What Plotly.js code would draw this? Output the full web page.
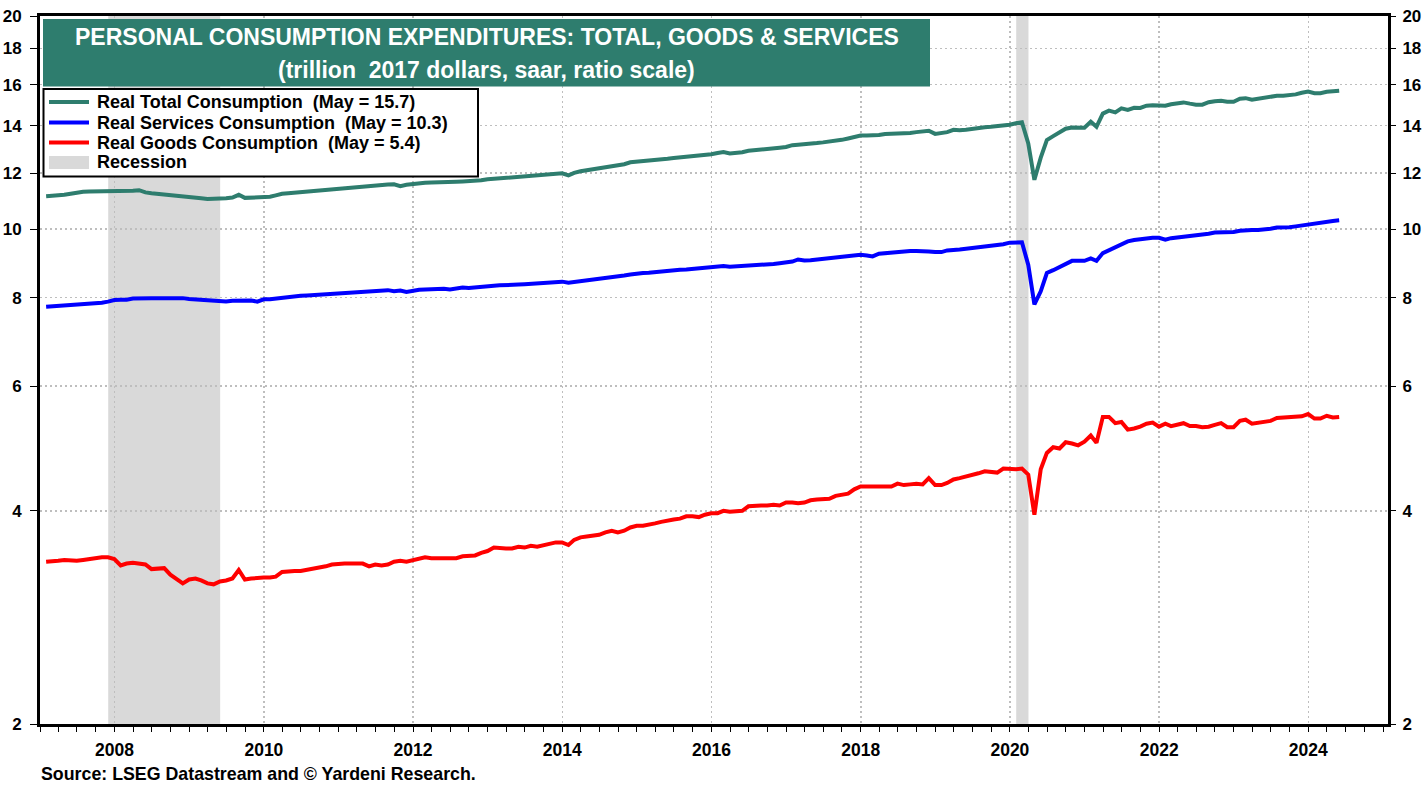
<!DOCTYPE html>
<html>
<head>
<meta charset="utf-8">
<script src="https://cdn.plot.ly/plotly-3.0.1.min.js"></script>
<style>html,body{margin:0;padding:0;background:#fff;}#chart{width:1427px;height:785px;}</style>
</head>
<body>
<div id="chart"></div>
<script>
// ---- DATA (monthly, Jan 2007 - May 2024, trillion 2017 dollars, saar) ----
const firstMonth = '2007-01';
const totalConsumption = [
  11.13,11.14,11.15,11.18,11.22,11.26,11.29,11.30,11.30,11.31,11.30,11.30, // 2007
  11.30,11.32,11.33,11.35,11.27,11.24,11.22,11.18,11.18,11.15,11.13,11.11, // 2008
  11.09,11.06,11.03,11.03,11.03,11.06,11.08,11.18,11.07,11.08,11.08,11.09, // 2009
  11.11,11.16,11.22,11.24,11.26,11.29,11.31,11.33,11.37,11.38,11.40,11.42, // 2010
  11.44,11.46,11.48,11.51,11.53,11.54,11.55,11.56,11.57,11.50,11.55,11.59, // 2011
  11.61,11.63,11.64,11.64,11.65,11.66,11.67,11.68,11.69,11.70,11.72,11.76, // 2012
  11.78,11.80,11.82,11.84,11.86,11.89,11.91,11.93,11.95,11.97,11.98,11.99, // 2013
  11.91,12.01,12.07,12.11,12.14,12.18,12.23,12.29,12.31,12.35,12.43,12.45, // 2014
  12.46,12.48,12.52,12.54,12.57,12.60,12.62,12.64,12.66,12.69,12.72,12.76, // 2015
  12.81,12.85,12.79,12.81,12.84,12.90,12.92,12.93,12.96,13.00,13.03,13.06, // 2016
  13.14,13.16,13.17,13.19,13.23,13.26,13.29,13.31,13.37,13.43,13.48,13.56, // 2017
  13.56,13.56,13.58,13.63,13.63,13.63,13.66,13.67,13.71,13.76,13.77,13.63, // 2018
  13.66,13.71,13.81,13.79,13.82,13.87,13.90,13.93,13.95,13.97,14.00,14.04, // 2019
  14.11,14.16,13.21,11.74,12.62,13.36,13.53,13.68,13.86,13.92,13.93,13.91, // 2020
  14.18,13.95,14.56,14.70,14.62,14.81,14.74,14.84,14.83,14.94,14.96,14.94, // 2021
  14.94,15.01,15.06,15.10,15.04,14.99,14.99,15.11,15.16,15.18,15.13,15.13, // 2022
  15.28,15.31,15.23,15.28,15.30,15.34,15.43,15.43,15.45,15.50,15.58,15.64, // 2023
  15.56,15.56,15.63,15.64,15.68                                            // 2024
];
const servicesConsumption = [
  7.77,7.78,7.79,7.79,7.80,7.81,7.84,7.85,7.86,7.87,7.90,7.94, // 2007
  7.95,7.95,7.98,7.99,7.99,7.99,7.99,7.99,8.01,8.00,7.99,7.97, // 2008
  7.96,7.94,7.94,7.93,7.90,7.90,7.92,7.93,7.94,7.93,7.90,7.96, // 2009
  7.96,7.98,8.00,8.02,8.04,8.05,8.06,8.07,8.08,8.08,8.09,8.11, // 2010
  8.11,8.12,8.14,8.15,8.16,8.17,8.19,8.20,8.17,8.19,8.15,8.19, // 2011
  8.21,8.22,8.23,8.24,8.24,8.22,8.25,8.27,8.26,8.28,8.30,8.30, // 2012
  8.32,8.33,8.33,8.34,8.35,8.36,8.37,8.38,8.39,8.40,8.42,8.43, // 2013
  8.40,8.42,8.43,8.45,8.47,8.49,8.52,8.54,8.57,8.60,8.63,8.66, // 2014
  8.67,8.68,8.70,8.71,8.73,8.74,8.76,8.77,8.79,8.80,8.82,8.84, // 2015
  8.85,8.87,8.85,8.86,8.86,8.87,8.88,8.89,8.91,8.93,8.95,8.97, // 2016
  9.00,9.06,9.03,9.04,9.06,9.08,9.09,9.10,9.12,9.14,9.17,9.20, // 2017
  9.18,9.15,9.23,9.25,9.26,9.29,9.30,9.31,9.31,9.32,9.30,9.28, // 2018
  9.28,9.33,9.36,9.36,9.38,9.40,9.42,9.44,9.46,9.49,9.52,9.57, // 2019
  9.59,9.58,8.90,7.83,8.17,8.67,8.75,8.84,8.95,9.02,9.02,9.02, // 2020
  9.09,9.02,9.25,9.34,9.43,9.53,9.61,9.65,9.68,9.71,9.72,9.72, // 2021
  9.66,9.71,9.73,9.75,9.77,9.78,9.80,9.85,9.89,9.89,9.90,9.91, // 2022
  9.95,9.97,9.97,9.97,9.98,10.01,10.05,10.05,10.06,10.09,10.12,10.16, // 2023
  10.21,10.24,10.25,10.27,10.29                                  // 2024
];
const goodsConsumption = [
  3.39,3.39,3.40,3.41,3.40,3.40,3.41,3.42,3.44,3.44,3.44,3.42, // 2007
  3.35,3.37,3.38,3.37,3.36,3.31,3.31,3.32,3.25,3.21,3.16,3.20, // 2008
  3.21,3.19,3.16,3.15,3.18,3.19,3.21,3.30,3.20,3.21,3.22,3.22, // 2009
  3.22,3.23,3.28,3.29,3.29,3.29,3.30,3.31,3.33,3.34,3.36,3.37, // 2010
  3.37,3.37,3.37,3.37,3.34,3.36,3.35,3.36,3.39,3.40,3.39,3.41, // 2011
  3.43,3.44,3.43,3.43,3.43,3.43,3.43,3.45,3.45,3.46,3.49,3.51, // 2012
  3.55,3.54,3.54,3.54,3.56,3.55,3.57,3.56,3.58,3.59,3.61,3.61, // 2013
  3.58,3.64,3.67,3.68,3.69,3.70,3.73,3.75,3.73,3.75,3.79,3.81, // 2014
  3.81,3.83,3.84,3.86,3.88,3.89,3.90,3.93,3.93,3.92,3.95,3.97, // 2015
  3.97,4.00,3.99,4.00,4.00,4.06,4.07,4.07,4.07,4.08,4.07,4.11, // 2016
  4.11,4.10,4.11,4.14,4.15,4.16,4.16,4.20,4.21,4.23,4.29,4.33, // 2017
  4.33,4.33,4.34,4.34,4.33,4.37,4.35,4.36,4.37,4.36,4.45,4.35, // 2018
  4.35,4.38,4.43,4.45,4.47,4.50,4.52,4.55,4.54,4.53,4.59,4.58, // 2019
  4.58,4.59,4.50,3.95,4.58,4.83,4.92,4.90,5.00,4.98,4.95,5.01, // 2020
  5.11,4.99,5.43,5.43,5.32,5.34,5.21,5.23,5.26,5.31,5.33,5.26, // 2021
  5.31,5.27,5.29,5.32,5.27,5.27,5.25,5.26,5.29,5.32,5.25,5.25, // 2022
  5.36,5.38,5.31,5.33,5.34,5.36,5.41,5.42,5.43,5.43,5.44,5.48, // 2023
  5.40,5.40,5.45,5.42,5.43                                     // 2024
];
const seriesNames = [
  'Real Total Consumption\u00A0 (May = 15.7)',
  'Real Services Consumption\u00A0 (May = 10.3)',
  'Real Goods Consumption\u00A0 (May = 5.4)'
];
const recessionStart = ['2007-12-01', '2020-02-01'];
const recessionEnd   = ['2009-06-01', '2020-04-01'];
const yTickVals = [2,4,6,8,10,12,14,16,18,20];
const titleLines = ['PERSONAL CONSUMPTION EXPENDITURES: TOTAL, GOODS & SERVICES',
                    '(trillion\u00A0 2017 dollars, saar, ratio scale)'];
const sourceText = 'Source: LSEG Datastream and \u00A9 Yardeni Research.';

// ---- dates: monthly observations plotted at month end ----
function monthEnd(i){
  const [y0,m0] = firstMonth.split('-').map(Number);
  const k = (m0-1)+i, y = y0+Math.floor(k/12), m = k%12+1;
  const d = new Date(Date.UTC(y, m, 0)).getUTCDate();
  return y+'-'+String(m).padStart(2,'0')+'-'+String(d).padStart(2,'0');
}
const dates = totalConsumption.map((_,i)=>monthEnd(i));

// ---- geometry helpers (pixel -> paper) ----
const W=1427,H=785,L=40,R=39,T=16,B=61;
const PW=W-L-R, PH=H-T-B;
const px = x => (x-L)/PW;
const py = y => (H-B-y)/PH;

const TEAL='#2E7D6E', BLUE='#0000FF', RED='#FF0000', GRAY='#D9D9D9';
const GRID='#BEBEBE';
const FONT='Liberation Sans, Arial, Helvetica, sans-serif';
const colors=[TEAL,BLUE,RED];
const series=[totalConsumption,servicesConsumption,goodsConsumption];

const traces = series.map((s,i)=>({
  type:'scatter', mode:'lines', x:dates, y:s, name:seriesNames[i],
  line:{color:colors[i], width:4}, showlegend:false, hoverinfo:'x+y'
}));
traces.push({type:'scatter', mode:'lines', x:[dates[0]], y:[null], yaxis:'y2', showlegend:false, hoverinfo:'skip'});

const shapes = [];
recessionStart.forEach((s,i)=>shapes.push({type:'rect', xref:'x', yref:'paper', x0:s, x1:recessionEnd[i], y0:0, y1:1,
  fillcolor:GRAY, line:{width:0}, layer:'below'}));
// title box
shapes.push({type:'rect', xref:'paper', yref:'paper', x0:px(43), x1:px(930), y0:py(86.5), y1:py(19), fillcolor:TEAL, line:{width:0}, layer:'above'});
// legend box
shapes.push({type:'rect', xref:'paper', yref:'paper', x0:px(43.5), x1:px(478), y0:py(176.5), y1:py(89), fillcolor:'#FFFFFF', line:{color:'#000', width:2}, layer:'above'});
const legY=[102,122.5,142.5,162.5];
colors.forEach((c,i)=>shapes.push({type:'line', xref:'paper', yref:'paper', x0:px(49), x1:px(89), y0:py(legY[i]), y1:py(legY[i]), line:{color:c,width:4}, layer:'above'}));
shapes.push({type:'rect', xref:'paper', yref:'paper', x0:px(49), x1:px(89), y0:py(169), y1:py(156), fillcolor:GRAY, line:{width:0}, layer:'above'});

const annotations = [];
annotations.push({xref:'paper', yref:'paper', x:px(486.5), y:py(37), xanchor:'center', yanchor:'middle', showarrow:false,
  text:'<b>'+titleLines[0]+'</b>', font:{family:FONT, size:23, color:'#FFFFFF'}});
annotations.push({xref:'paper', yref:'paper', x:px(486.5), y:py(70), xanchor:'center', yanchor:'middle', showarrow:false,
  text:'<b>'+titleLines[1]+'</b>', font:{family:FONT, size:23, color:'#FFFFFF'}});
seriesNames.concat(['Recession']).forEach((t,i)=>annotations.push({xref:'paper', yref:'paper', x:px(95), y:py(legY[i]), xanchor:'left', yanchor:'middle', showarrow:false,
  text:'<b>'+t+'</b>', font:{family:FONT, size:18, color:'#000'}}));
annotations.push({xref:'paper', yref:'paper', x:px(39), y:py(774), xanchor:'left', yanchor:'middle', showarrow:false,
  text:'<b>'+sourceText+'</b>', font:{family:FONT, size:17.8, color:'#000'}});

const yRange=[Math.log10(2), Math.log10(20)];
const yCommon = {type:'log', range:yRange, tickmode:'array', tickvals:yTickVals, ticktext:yTickVals.map(String),
  ticks:'outside', ticklen:7, tickwidth:1, tickcolor:'#000',
  tickfont:{family:FONT, size:17, color:'#000', weight:'bold'}, fixedrange:true};

const layout = {
  width:W, height:H, margin:{l:L, r:R, t:T, b:B, pad:0},
  paper_bgcolor:'#FFFFFF', plot_bgcolor:'#FFFFFF', showlegend:false, hovermode:false,
  xaxis:{type:'date', range:['2007-01-01','2025-01-25'], tick0:'2008-01-01', dtick:'M24', tickformat:'%Y',
    ticks:'outside', ticklen:5, tickwidth:1, tickcolor:'#000', ticklabelstandoff:3,
    tickfont:{family:FONT, size:17.5, color:'#000', weight:'bold'},
    showgrid:true, gridcolor:GRID, griddash:'2px,3px', gridwidth:1.5,
    showline:true, linecolor:'#000', linewidth:3, mirror:true, zeroline:false,
    minor:{tick0:'2007-01-01', dtick:'M3', ticks:'outside', ticklen:5, tickwidth:1, tickcolor:'#000', showgrid:false},
    fixedrange:true},
  yaxis:Object.assign({}, yCommon, {showgrid:true, gridcolor:GRID, griddash:'2px,3px', gridwidth:1.5,
    showline:true, linecolor:'#000', linewidth:3, mirror:true, zeroline:false, ticklabelstandoff:5}),
  yaxis2:Object.assign({}, yCommon, {overlaying:'y', side:'right', showgrid:false, showline:false, zeroline:false, ticklabelstandoff:3}),
  shapes:shapes, annotations:annotations
};
Plotly.newPlot('chart', traces, layout, {staticPlot:true, displayModeBar:false});
</script>
</body>
</html>
